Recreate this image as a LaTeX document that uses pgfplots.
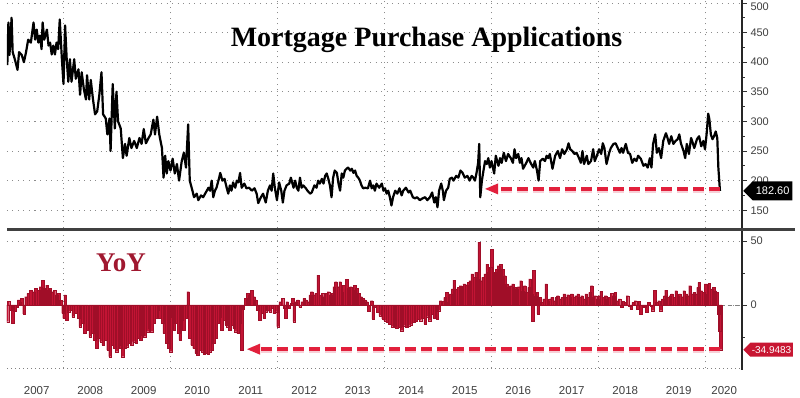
\documentclass[border=0pt]{standalone}
\usepackage{fontspec}
\setmainfont{Liberation Serif}
\newfontfamily\sansf{Liberation Sans}
\usepackage{pgfplots}
\pgfplotsset{compat=1.18}
\usepackage{pgfplotstable}
\usetikzlibrary{shapes.symbols}

\definecolor{barred}{RGB}{194,20,52}
\definecolor{bardark}{RGB}{160,14,40}
\definecolor{arrred}{RGB}{226,32,60}
\definecolor{yoyred}{RGB}{160,24,48}
\definecolor{lblred}{RGB}{200,22,50}

% Weekly MBA purchase index
\pgfplotstableread[row sep=\\]{
t v\\
2006.95 395\\ 2006.97 467\\ 2006.99 412\\ 2007.03 475\\ 2007.05 417\\ 2007.09 405\\ 2007.14 387\\ 2007.17 417\\
2007.22 412\\ 2007.26 400\\ 2007.30 417\\ 2007.34 438\\ 2007.39 433\\ 2007.44 467\\ 2007.47 438\\ 2007.50 455\\
2007.53 433\\ 2007.56 445\\ 2007.59 422\\ 2007.61 467\\ 2007.64 438\\ 2007.69 455\\ 2007.72 428\\ 2007.75 433\\
2007.78 413\\ 2007.81 428\\ 2007.84 413\\ 2007.87 433\\ 2007.90 422\\ 2007.93 472\\ 2007.97 405\\ 2008.00 363\\
2008.03 462\\ 2008.06 405\\ 2008.09 367\\ 2008.12 405\\ 2008.15 367\\ 2008.20 405\\ 2008.23 372\\ 2008.28 388\\
2008.31 345\\ 2008.34 383\\ 2008.38 355\\ 2008.42 337\\ 2008.44 378\\ 2008.48 337\\ 2008.51 370\\ 2008.55 338\\
2008.59 312\\ 2008.63 317\\ 2008.67 345\\ 2008.71 383\\ 2008.74 312\\ 2008.79 305\\ 2008.82 278\\ 2008.86 305\\
2008.88 250\\ 2008.92 363\\ 2008.96 288\\ 2008.99 350\\ 2009.02 300\\ 2009.07 288\\ 2009.11 238\\ 2009.15 262\\
2009.18 242\\ 2009.23 272\\ 2009.27 255\\ 2009.32 267\\ 2009.37 255\\ 2009.42 272\\ 2009.46 262\\ 2009.50 287\\
2009.54 263\\ 2009.59 272\\ 2009.63 278\\ 2009.68 303\\ 2009.71 278\\ 2009.75 308\\ 2009.79 278\\ 2009.84 255\\
2009.87 205\\ 2009.90 242\\ 2009.93 212\\ 2009.96 233\\ 2010.00 217\\ 2010.04 237\\ 2010.08 212\\ 2010.12 228\\
2010.16 200\\ 2010.21 233\\ 2010.25 247\\ 2010.29 222\\ 2010.33 295\\ 2010.36 200\\ 2010.41 183\\ 2010.44 172\\
2010.49 178\\ 2010.52 167\\ 2010.57 175\\ 2010.61 172\\ 2010.66 180\\ 2010.71 188\\ 2010.74 183\\ 2010.77 200\\
2010.80 172\\ 2010.83 183\\ 2010.86 188\\ 2010.91 205\\ 2010.93 213\\ 2010.97 200\\ 2011.01 203\\ 2011.05 188\\
2011.08 178\\ 2011.11 192\\ 2011.14 183\\ 2011.17 197\\ 2011.21 188\\ 2011.24 200\\ 2011.27 197\\ 2011.30 213\\
2011.33 188\\ 2011.38 195\\ 2011.42 187\\ 2011.47 188\\ 2011.52 183\\ 2011.57 187\\ 2011.61 178\\ 2011.64 162\\
2011.69 172\\ 2011.73 178\\ 2011.78 163\\ 2011.82 183\\ 2011.86 192\\ 2011.89 183\\ 2011.92 212\\ 2011.95 188\\
2011.99 167\\ 2012.03 197\\ 2012.07 183\\ 2012.10 163\\ 2012.13 183\\ 2012.17 192\\ 2012.22 195\\ 2012.25 205\\
2012.30 188\\ 2012.33 200\\ 2012.36 188\\ 2012.39 183\\ 2012.42 205\\ 2012.45 188\\ 2012.48 192\\ 2012.53 187\\
2012.56 183\\ 2012.61 178\\ 2012.64 180\\ 2012.69 192\\ 2012.73 188\\ 2012.76 200\\ 2012.79 195\\ 2012.83 203\\
2012.86 195\\ 2012.89 208\\ 2012.92 212\\ 2012.95 203\\ 2012.98 192\\ 2013.01 172\\ 2013.04 205\\ 2013.07 217\\
2013.11 213\\ 2013.14 195\\ 2013.17 183\\ 2013.20 212\\ 2013.23 205\\ 2013.26 217\\ 2013.29 220\\ 2013.32 222\\
2013.36 217\\ 2013.39 220\\ 2013.42 213\\ 2013.45 217\\ 2013.48 208\\ 2013.51 205\\ 2013.54 200\\ 2013.57 192\\
2013.60 187\\ 2013.64 188\\ 2013.69 187\\ 2013.73 200\\ 2013.76 187\\ 2013.79 192\\ 2013.82 183\\ 2013.85 195\\
2013.90 188\\ 2013.95 195\\ 2013.98 183\\ 2014.01 187\\ 2014.04 178\\ 2014.07 183\\ 2014.10 172\\ 2014.13 158\\
2014.16 172\\ 2014.20 183\\ 2014.24 178\\ 2014.28 187\\ 2014.32 175\\ 2014.35 183\\ 2014.40 188\\ 2014.45 180\\
2014.48 183\\ 2014.53 172\\ 2014.57 170\\ 2014.61 172\\ 2014.66 167\\ 2014.71 170\\ 2014.76 172\\ 2014.80 167\\
2014.85 172\\ 2014.89 180\\ 2014.93 163\\ 2014.96 172\\ 2014.99 155\\ 2015.02 183\\ 2015.06 195\\ 2015.09 183\\
2015.11 167\\ 2015.15 183\\ 2015.19 188\\ 2015.22 203\\ 2015.26 205\\ 2015.29 200\\ 2015.34 208\\ 2015.38 205\\
2015.42 217\\ 2015.46 213\\ 2015.50 205\\ 2015.55 208\\ 2015.59 200\\ 2015.63 208\\ 2015.66 205\\ 2015.69 200\\
2015.72 213\\ 2015.75 230\\ 2015.77 262\\ 2015.79 172\\ 2015.82 200\\ 2015.85 217\\ 2015.88 233\\ 2015.91 228\\
2015.94 238\\ 2015.97 222\\ 2016.00 233\\ 2016.05 212\\ 2016.08 242\\ 2016.13 225\\ 2016.16 238\\ 2016.19 230\\
2016.23 247\\ 2016.27 233\\ 2016.31 245\\ 2016.36 238\\ 2016.40 230\\ 2016.43 253\\ 2016.46 238\\ 2016.50 245\\
2016.53 230\\ 2016.56 238\\ 2016.59 220\\ 2016.65 230\\ 2016.69 238\\ 2016.73 230\\ 2016.78 222\\ 2016.81 233\\
2016.85 217\\ 2016.88 200\\ 2016.91 233\\ 2016.96 237\\ 2017.00 233\\ 2017.03 242\\ 2017.06 238\\ 2017.09 245\\
2017.14 220\\ 2017.19 242\\ 2017.24 250\\ 2017.28 238\\ 2017.32 253\\ 2017.36 245\\ 2017.41 253\\ 2017.44 263\\
2017.47 253\\ 2017.51 250\\ 2017.55 245\\ 2017.59 247\\ 2017.64 237\\ 2017.67 230\\ 2017.70 250\\ 2017.73 228\\
2017.78 242\\ 2017.81 228\\ 2017.86 233\\ 2017.90 253\\ 2017.93 233\\ 2017.97 242\\ 2018.01 253\\ 2018.05 245\\
2018.08 263\\ 2018.11 255\\ 2018.15 228\\ 2018.20 247\\ 2018.23 255\\ 2018.28 262\\ 2018.32 263\\ 2018.36 255\\
2018.40 247\\ 2018.43 255\\ 2018.46 247\\ 2018.51 262\\ 2018.55 247\\ 2018.59 245\\ 2018.63 230\\ 2018.67 237\\
2018.71 233\\ 2018.74 242\\ 2018.79 237\\ 2018.84 225\\ 2018.88 228\\ 2018.92 222\\ 2018.96 238\\ 2018.99 222\\
2019.02 262\\ 2019.06 278\\ 2019.09 247\\ 2019.13 255\\ 2019.17 238\\ 2019.21 267\\ 2019.26 280\\ 2019.29 272\\
2019.32 262\\ 2019.36 275\\ 2019.40 262\\ 2019.44 267\\ 2019.48 270\\ 2019.51 278\\ 2019.54 263\\ 2019.59 250\\
2019.62 238\\ 2019.65 262\\ 2019.69 245\\ 2019.73 272\\ 2019.75 267\\ 2019.79 255\\ 2019.84 270\\ 2019.88 275\\
2019.92 258\\ 2019.96 267\\ 2019.99 253\\ 2020.02 278\\ 2020.05 313\\ 2020.07 305\\ 2020.10 278\\ 2020.13 270\\
2020.16 275\\ 2020.19 283\\ 2020.22 272\\ 2020.24 222\\ 2020.27 182.6\\
}\tblPurch

% Year-over-year change, percent
\pgfplotstableread[row sep=\\]{
t v\\
2006.95 -13\\ 2006.97 3\\ 2007.01 -4\\ 2007.05 -14\\ 2007.09 -5\\ 2007.13 -2\\ 2007.16 4\\ 2007.19 2\\
2007.22 5\\ 2007.26 -7\\ 2007.30 6.5\\ 2007.34 9\\ 2007.39 11.7\\ 2007.44 10.4\\ 2007.48 13\\ 2007.53 11.7\\
2007.57 14.3\\ 2007.61 19.5\\ 2007.64 13\\ 2007.69 15.6\\ 2007.72 11.7\\ 2007.75 13\\ 2007.79 10.4\\ 2007.83 11.7\\
2007.87 7.8\\ 2007.91 9.1\\ 2007.95 3.5\\ 2007.99 -6.5\\ 2008.01 -10.4\\ 2008.03 7.8\\ 2008.06 -11.7\\ 2008.10 -5.2\\
2008.14 -3.9\\ 2008.18 -9.1\\ 2008.23 -6.5\\ 2008.28 -10.4\\ 2008.31 -16.9\\ 2008.36 -14.3\\ 2008.40 -22.1\\ 2008.44 -19.5\\
2008.50 -24.7\\ 2008.54 -22.1\\ 2008.58 -27.3\\ 2008.62 -33.9\\ 2008.66 -26\\ 2008.70 -28.6\\ 2008.74 -31.3\\ 2008.79 -27.3\\
2008.83 -35.2\\ 2008.87 -40.4\\ 2008.91 -31.3\\ 2008.95 -33.9\\ 2008.99 -36.5\\ 2009.04 -31.3\\ 2009.07 -33.9\\ 2009.11 -40.4\\
2009.15 -33.9\\ 2009.19 -32.6\\ 2009.23 -29.9\\ 2009.27 -31.3\\ 2009.32 -28.6\\ 2009.36 -29.9\\ 2009.40 -26\\ 2009.44 -27.3\\
2009.48 -23.4\\ 2009.52 -24.7\\ 2009.57 -20.8\\ 2009.60 -18.2\\ 2009.65 -20.8\\ 2009.69 -14.3\\ 2009.73 -10.4\\ 2009.77 -3.9\\
2009.80 -10.4\\ 2009.85 -14.3\\ 2009.88 -22.1\\ 2009.93 -29.9\\ 2009.97 -33.9\\ 2010.00 -36.5\\ 2010.03 -9.1\\ 2010.07 -19.5\\
2010.10 -14.3\\ 2010.15 -22.1\\ 2010.18 -27.3\\ 2010.21 -11.7\\ 2010.25 -19.5\\ 2010.29 -10.4\\ 2010.33 10.4\\ 2010.36 -26\\
2010.40 -31.3\\ 2010.44 -33.9\\ 2010.48 -37.8\\ 2010.51 -39\\ 2010.55 -35.2\\ 2010.59 -36.5\\ 2010.63 -38\\ 2010.66 -37.8\\
2010.70 -38.5\\ 2010.74 -36.5\\ 2010.78 -35.2\\ 2010.81 -29.9\\ 2010.85 -26\\ 2010.89 -14.3\\ 2010.93 -9.1\\ 2010.96 -19.5\\
2011.00 -11.7\\ 2011.04 -15.6\\ 2011.07 -16.9\\ 2011.11 -19.5\\ 2011.15 -15.6\\ 2011.19 -18.2\\ 2011.22 -20.8\\ 2011.26 -22.1\\
2011.30 -14.3\\ 2011.33 -35.2\\ 2011.36 -3\\ 2011.40 5.2\\ 2011.44 9.1\\ 2011.47 7.8\\ 2011.52 11.7\\ 2011.56 6.5\\
2011.59 3.9\\ 2011.63 -3.9\\ 2011.67 -11.7\\ 2011.71 -6.5\\ 2011.75 -10.4\\ 2011.79 -5.2\\ 2011.82 -3.9\\ 2011.86 -5.2\\
2011.90 -2.6\\ 2011.94 -6.5\\ 2011.98 -5.2\\ 2012.01 -16.9\\ 2012.05 2.6\\ 2012.09 5.2\\ 2012.13 -2.6\\ 2012.15 -10.4\\
2012.18 2.6\\ 2012.22 -2.6\\ 2012.26 1.3\\ 2012.28 5.2\\ 2012.31 -13\\ 2012.35 2.6\\ 2012.38 3.9\\ 2012.42 -1.3\\
2012.46 2.6\\ 2012.50 5.2\\ 2012.53 3.9\\ 2012.57 2.6\\ 2012.61 7.8\\ 2012.64 10.4\\ 2012.68 7.8\\ 2012.72 9.1\\
2012.76 23.4\\ 2012.80 7.8\\ 2012.84 9.1\\ 2012.87 6.5\\ 2012.91 9.1\\ 2012.95 10.4\\ 2012.99 7.8\\ 2013.02 9.1\\
2013.06 14.3\\ 2013.09 18.2\\ 2013.13 14.3\\ 2013.17 18.2\\ 2013.21 10.4\\ 2013.24 15.6\\ 2013.29 20\\ 2013.33 13\\
2013.37 14.3\\ 2013.41 11.7\\ 2013.44 15.6\\ 2013.48 13\\ 2013.52 9.1\\ 2013.56 6.5\\ 2013.59 5.2\\ 2013.63 3.9\\
2013.67 2.6\\ 2013.70 -5\\ 2013.76 3.4\\ 2013.79 -10.9\\ 2013.82 -1.8\\ 2013.87 -5.7\\ 2013.92 -8.3\\ 2013.97 -10.9\\
2014.01 -12.2\\ 2014.05 -13.5\\ 2014.10 -14.8\\ 2014.15 -16.9\\ 2014.19 -16.1\\ 2014.23 -18\\ 2014.28 -17.4\\ 2014.32 -20\\
2014.36 -16.1\\ 2014.41 -17.4\\ 2014.45 -16.1\\ 2014.50 -15.4\\ 2014.54 -13.5\\ 2014.58 -12.8\\ 2014.63 -10.9\\ 2014.67 -12.2\\
2014.71 -10.2\\ 2014.76 -14.8\\ 2014.80 -9.1\\ 2014.84 -12.2\\ 2014.89 -7\\ 2014.93 -10.2\\ 2014.98 -10.9\\ 2015.01 -4.4\\
2015.05 3.4\\ 2015.09 2.9\\ 2015.13 6\\ 2015.16 9.9\\ 2015.19 2.1\\ 2015.23 8.6\\ 2015.27 12.5\\ 2015.30 19.5\\
2015.34 12.5\\ 2015.38 13.8\\ 2015.42 15.1\\ 2015.45 14.3\\ 2015.49 16.4\\ 2015.53 15.9\\ 2015.57 17.7\\ 2015.60 19\\
2015.64 24.2\\ 2015.68 21.6\\ 2015.71 25.5\\ 2015.74 20.3\\ 2015.77 49\\ 2015.80 19\\ 2015.84 21.6\\ 2015.88 24.2\\
2015.92 32\\ 2015.95 25.5\\ 2015.98 29.4\\ 2016.00 43.7\\ 2016.03 21.6\\ 2016.07 25.5\\ 2016.10 28.1\\ 2016.13 30.7\\
2016.17 32\\ 2016.21 28.1\\ 2016.25 22.9\\ 2016.28 16.4\\ 2016.32 13.8\\ 2016.36 15.1\\ 2016.40 16.4\\ 2016.43 13.8\\
2016.47 12.5\\ 2016.51 14.3\\ 2016.55 19\\ 2016.58 11.2\\ 2016.62 15.1\\ 2016.66 9.9\\ 2016.70 13.8\\ 2016.72 20.3\\
2016.75 8.6\\ 2016.77 -12.8\\ 2016.79 27.3\\ 2016.82 7.3\\ 2016.85 9.9\\ 2016.87 -7\\ 2016.91 6\\ 2016.94 2.1\\
2016.98 4.7\\ 2017.02 16.4\\ 2017.06 3.4\\ 2017.09 4.7\\ 2017.13 6\\ 2017.17 3.4\\ 2017.21 6\\ 2017.24 7.3\\
2017.28 4.7\\ 2017.32 6\\ 2017.36 8.6\\ 2017.39 6\\ 2017.43 8.1\\ 2017.47 6.5\\ 2017.50 8.6\\ 2017.54 6\\
2017.58 7.3\\ 2017.62 8.6\\ 2017.65 6\\ 2017.69 7.3\\ 2017.73 4.7\\ 2017.77 8.6\\ 2017.80 6\\ 2017.84 9.9\\
2017.87 15.1\\ 2017.90 6\\ 2017.94 7.3\\ 2017.98 4.7\\ 2018.01 7.3\\ 2018.05 10.7\\ 2018.09 6\\ 2018.13 7.3\\
2018.16 4.7\\ 2018.20 6\\ 2018.24 9.1\\ 2018.28 7.3\\ 2018.31 9.9\\ 2018.35 3.4\\ 2018.39 4.7\\ 2018.43 -1.8\\
2018.46 2.9\\ 2018.50 2.1\\ 2018.54 7.3\\ 2018.58 -0.5\\ 2018.61 -3.1\\ 2018.65 2.1\\ 2018.69 3.4\\ 2018.73 -3.1\\
2018.76 2.9\\ 2018.79 -7\\ 2018.83 -0.5\\ 2018.86 -1.8\\ 2018.90 -5.7\\ 2018.94 2.1\\ 2018.98 -0.5\\ 2019.01 -4.4\\
2019.05 11.7\\ 2019.09 2.1\\ 2019.13 3.4\\ 2019.16 -4.4\\ 2019.20 4.7\\ 2019.24 7.3\\ 2019.26 11.7\\ 2019.30 6\\
2019.34 7.3\\ 2019.37 8.6\\ 2019.41 6\\ 2019.45 11.2\\ 2019.49 7.3\\ 2019.52 8.6\\ 2019.56 6.5\\ 2019.60 11.2\\
2019.64 8.6\\ 2019.67 7.3\\ 2019.71 15.1\\ 2019.75 8.6\\ 2019.79 9.9\\ 2019.82 8.6\\ 2019.86 13.8\\ 2019.88 17.7\\
2019.92 11.2\\ 2019.96 9.9\\ 2020.00 16.4\\ 2020.03 8.6\\ 2020.07 16.9\\ 2020.11 12.5\\ 2020.15 13.8\\ 2020.18 11.2\\
2020.21 9.9\\ 2020.24 -7\\ 2020.26 -20\\ 2020.28 -34.9483\\
}\tblYoY

\pgfplotsset{
  chartbase/.style={
    scale only axis, width=735pt,
    xmin=2006.944, xmax=2020.682,
    axis line style={draw=none},
    ytick pos=right, yticklabel pos=right, tick align=outside,
    major tick length=5pt, minor tick length=3pt,
    y tick style={black!80, line width=0.9pt},
    x tick style={draw=none},
    grid style={black!45, line width=0.7pt, dash pattern=on 1pt off 4.5pt},
    minor grid style={black!45, line width=0.7pt, dash pattern=on 1pt off 4.5pt},
    yticklabel style={font=\sansf\fontsize{11}{12}\selectfont, text=black!75},
    xticklabel style={font=\sansf\fontsize{11.5}{12}\selectfont, text=black!75},
    /pgf/number format/assume math mode=true,
  }
}

\begin{document}
\begin{tikzpicture}[x=1pt,y=1pt]
\path[use as bounding box, fill=white] (0,0) rectangle (800,398);

% ---------- top panel ----------
\begin{axis}[chartbase,
  at={(7pt,170pt)}, anchor=south west, height=228pt,
  ymin=120, ymax=505,
  xtick={2008,2010,2012,2014,2016,2018,2020}, xticklabels={}, xmajorgrids,
  ytick={150,200,...,450}, minor ytick={175,225,...,475}, ymajorgrids,
  extra y ticks={500}, extra y tick style={yticklabel style={yshift=-4pt}},
]
\addplot[black, line width=2.2pt, line join=round] table[x=t, y=v]{\tblPurch};
\draw[arrred!30, line width=4.5pt, dash pattern=on 11pt off 5pt, opacity=0.7]
  ([yshift=-2pt]axis cs:2020.27,186) -- ([yshift=-2pt]axis cs:2016.12,186);
\draw[arrred, line width=3.6pt, dash pattern=on 11pt off 5pt]
  (axis cs:2020.27,186) -- (axis cs:2016.12,186);
\fill[arrred] (axis cs:2015.88,186) -- ++(13pt,5.5pt) -- ++(0pt,-11pt) -- cycle;
\coordinate (lab1) at (axis cs:2020.682,182.6);
\end{axis}

% ---------- bottom panel ----------
\begin{axis}[chartbase,
  at={(7pt,30pt)}, anchor=south west, height=136pt,
  ymin=-49.2, ymax=57,
  xtick={2007.5,2008.5,2009.5,2010.5,2011.5,2012.5,2013.5,2014.5,2015.5,2016.5,2017.5,2018.5,2019.5,2020.35},
  xticklabels={2007,2008,2009,2010,2011,2012,2013,2014,2015,2016,2017,2018,2019,2020},
  xticklabel style={yshift=-10pt},
  minor xtick={2008,2010,2012,2014,2016,2018,2020}, xminorgrids,
  ytick={0,50}, minor ytick={-25,25}, ymajorgrids,
]
\draw[black!50, line width=0.7pt, dash pattern=on 4pt off 3pt] (axis cs:2006.944,0) -- (axis cs:2020.682,0);
\addplot[ybar, bar width=2.6pt, fill=barred, draw=bardark, line width=0.2pt] table[x=t, y=v]{\tblYoY};
\draw[arrred!30, line width=4.5pt, dash pattern=on 11pt off 5pt, opacity=0.7]
  ([yshift=-2pt]axis cs:2020.27,-34.5) -- ([yshift=-2pt]axis cs:2011.67,-34.5);
\draw[arrred, line width=3.6pt, dash pattern=on 11pt off 5pt]
  (axis cs:2020.27,-34.5) -- (axis cs:2011.67,-34.5);
\fill[arrred] (axis cs:2011.43,-34.5) -- ++(13pt,5.5pt) -- ++(0pt,-11pt) -- cycle;
\pgfplotsinvokeforeach{2007,...,2020}{
  \draw[black!35, line width=0.6pt] (axis cs:#1,-49.2) -- ++(0pt,-30pt);
}
\coordinate (lab2) at (axis cs:2020.682,-34.9483);
\end{axis}

% frame elements
\draw[black!50, line width=0.7pt, dash pattern=on 1pt off 3pt] (7,30) -- (742,30);
\draw[black!85, line width=1.2pt] (742,28) -- (742,398);
\draw[black!75, line width=3pt] (7,168.5) -- (795,168.5);

% last-value labels
\node[signal, signal to=west, fill=black, text=white, font=\sansf\fontsize{11}{12}\selectfont,
  inner xsep=3pt, inner ysep=3pt, minimum height=19pt, anchor=west] at ([xshift=1pt]lab1) {182.60};
\node[signal, signal to=west, fill=lblred, text=white, font=\sansf\fontsize{10}{11}\selectfont,
  inner xsep=1.5pt, inner ysep=1.5pt, minimum height=14pt, anchor=west] at ([xshift=1pt]lab2) {-34.9483};

% titles
\node[anchor=base, font=\bfseries\fontsize{28}{30}\selectfont] at (426.5,351) {Mortgage Purchase Applications};
\node[anchor=base, font=\bfseries\fontsize{27}{28}\selectfont, text=yoyred] at (121,126) {YoY};
\end{tikzpicture}
\end{document}
